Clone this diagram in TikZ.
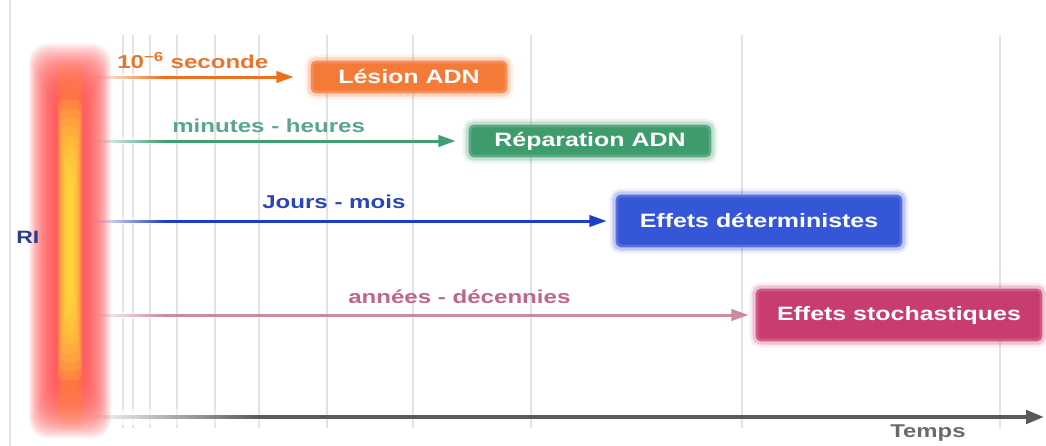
\documentclass[tikz,border=0pt]{standalone}
\usepackage{fontspec}
\newfontfamily\diagfont{Liberation Sans}[FakeStretch=1.29]
\usetikzlibrary{arrows.meta,fadings}

\definecolor{lesionBox}{HTML}{F47A38}
\definecolor{lesionText}{HTML}{E8762C}
\definecolor{lesionArrow}{HTML}{EE6F1E}
\definecolor{reparBox}{HTML}{3E9B6C}
\definecolor{reparText}{HTML}{5BA68A}
\definecolor{reparArrow}{HTML}{3F9E73}
\definecolor{determBox}{HTML}{3656D8}
\definecolor{determText}{HTML}{2B47B5}
\definecolor{determArrow}{HTML}{1F3DC6}
\definecolor{stochBox}{HTML}{C93C70}
\definecolor{stochText}{HTML}{C0668C}
\definecolor{stochArrow}{HTML}{C98AA6}
\definecolor{riRed}{HTML}{FF4F4F}
\definecolor{riOrange}{HTML}{FF9030}
\definecolor{riYellow}{HTML}{FFEE40}
\definecolor{riText}{HTML}{2B3F8F}
\definecolor{axisGray}{HTML}{5A5A5A}
\definecolor{tempsGray}{HTML}{6A6A6A}

\tikzfading[name=fadeRight, left color=transparent!0, right color=transparent!100]

\begin{document}
\begin{tikzpicture}
    [x = 0.75pt, y = -0.75pt,
     gridLine/.style = {gray!22, line width = 1.5pt},
     labelText/.style = {inner sep = 0pt, anchor = base west,
                         font = \diagfont\bfseries\fontsize{14}{16}\selectfont},
     glowBox/.style = {rounded corners = 3pt, fill = #1, draw = #1!85,
                       line width = 2pt,
                       preaction = {draw = #1, line width = 11pt, opacity = 0.10},
                       preaction = {draw = #1, line width = 7pt, opacity = 0.22},
                       text = white, inner sep = 0pt,
                       font = \diagfont\bfseries\fontsize{14.5}{17}\selectfont},
     smallBox/.style = {minimum height = 22.5pt},
     bigBox/.style = {minimum width = 213pt, minimum height = 37.5pt},
     timeArrow/.style = {line width = 2.25pt,
                         -{Triangle[length = 13pt, width = 8.5pt]}},
     axisLine/.style = {axisGray, line width = 3pt,
                        -{Triangle[length = 13.5pt, width = 10pt]}},
     fadeStrip/.style = {white, path fading = fadeRight}]

    \useasboundingbox (0,0) rectangle (1046,446);
    \fill [white] (0,0) rectangle (1046,446);

    \draw [gridLine] (10,0) -- (10,446);
    \foreach \gx in {123,133,150,177,215,259,327,413,531,742,1000}
      \draw [gridLine] (\gx,35) -- (\gx,428);

    \coordinate (axisStart) at (88,417);
    \coordinate (axisEnd)   at (1044,417);
    \draw [axisLine] (axisStart) -- (axisEnd);
    \fill [fadeStrip] (86,409) rectangle (260,425);

    \node at (409,77)  [glowBox = lesionBox, smallBox, minimum width = 145.5pt] (lesion) {Lésion ADN};
    \node at (590,141) [glowBox = reparBox, smallBox, minimum width = 180pt]   (repar)  {Réparation ADN};
    \node at (759,221) [glowBox = determBox, bigBox] (determ) {Effets déterministes};
    \node at (899,315) [glowBox = stochBox, bigBox]  (stoch)  {Effets stochastiques};

    \coordinate (srcLesion) at (95,77);
    \coordinate (srcRepar)  at (95,141);
    \coordinate (srcDeterm) at (95,221);
    \coordinate (srcStoch)  at (95,315);

    \path
      (srcLesion) edge [timeArrow, lesionArrow, shorten >= 12.75pt] (lesion.west)
      (srcRepar)  edge [timeArrow, reparArrow, shorten >= 9.75pt]   (repar.west)
      (srcDeterm) edge [timeArrow, determArrow, shorten >= 6.75pt]  (determ.west)
      (srcStoch)  edge [timeArrow, stochArrow, shorten >= 5.25pt]   (stoch.west);

    \foreach \ay in {77,141,221,315}
      \fill [fadeStrip] (92,\ay-4) rectangle (165,\ay+4);

    \foreach \k in {1,...,24}
      \fill [riRed, opacity = 0.09, rounded corners = 14pt]
        ({58-\k*1.2},{92-\k*2}) rectangle ({82+\k*1.2},{390+\k*2});
    \foreach \k in {1,...,10}
      \fill [riOrange, opacity = 0.1, rounded corners = 5pt]
        ({67-\k},{120-\k*6}) rectangle ({73+\k},{370+\k*6});
    \foreach \k in {1,...,10}
      \fill [riYellow, opacity = 0.14, rounded corners = 4pt]
        ({68-\k},{190-\k*9}) rectangle ({72+\k},{290+\k*9});

    \node at (117,68)  [labelText, lesionText] (lblLesion) {10\textsuperscript{−6} seconde};
    \node at (172,132) [labelText, reparText]  (lblRepar)  {minutes - heures};
    \node at (262,208) [labelText, determText] (lblDeterm) {Jours - mois};
    \node at (348,303) [labelText, stochText]  (lblStoch)  {années - décennies};

    \node at (16,243)  [labelText, riText, font = \diagfont\bfseries\fontsize{13.4}{15}\selectfont] (ri) {RI};
    \node at (890,437) [labelText, tempsGray, font = \diagfont\bfseries\fontsize{13.9}{15}\selectfont] (temps) {Temps};
\end{tikzpicture}
\end{document}
